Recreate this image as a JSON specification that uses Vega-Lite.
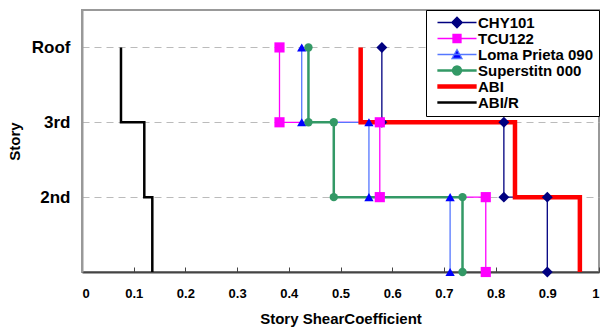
{
  "$schema": "https://vega.github.io/schema/vega-lite/v6.json",
  "width": 517,
  "height": 262,
  "autosize": {"type": "none"},
  "padding": {"left": 82, "top": 10, "right": 2, "bottom": 60},
  "background": "white",
  "config": {
    "view": {"stroke": "#999999", "strokeWidth": 2},
    "font": "Liberation Sans"
  },
  "data": {
    "values": [
      {"s": "CHY101", "i": 1, "x": 0.58, "y": 3},
      {"s": "CHY101", "i": 2, "x": 0.58, "y": 2},
      {"s": "CHY101", "i": 3, "x": 0.816, "y": 2},
      {"s": "CHY101", "i": 4, "x": 0.816, "y": 1},
      {"s": "CHY101", "i": 5, "x": 0.9, "y": 1},
      {"s": "CHY101", "i": 6, "x": 0.9, "y": 0},
      {"s": "TCU122", "i": 1, "x": 0.382, "y": 3},
      {"s": "TCU122", "i": 2, "x": 0.382, "y": 2},
      {"s": "TCU122", "i": 3, "x": 0.576, "y": 2},
      {"s": "TCU122", "i": 4, "x": 0.576, "y": 1},
      {"s": "TCU122", "i": 5, "x": 0.781, "y": 1},
      {"s": "TCU122", "i": 6, "x": 0.781, "y": 0},
      {"s": "Loma Prieta 090", "i": 1, "x": 0.425, "y": 3},
      {"s": "Loma Prieta 090", "i": 2, "x": 0.425, "y": 2},
      {"s": "Loma Prieta 090", "i": 3, "x": 0.555, "y": 2},
      {"s": "Loma Prieta 090", "i": 4, "x": 0.555, "y": 1},
      {"s": "Loma Prieta 090", "i": 5, "x": 0.712, "y": 1},
      {"s": "Loma Prieta 090", "i": 6, "x": 0.712, "y": 0},
      {"s": "Superstitn 000", "i": 1, "x": 0.438, "y": 3},
      {"s": "Superstitn 000", "i": 2, "x": 0.438, "y": 2},
      {"s": "Superstitn 000", "i": 3, "x": 0.487, "y": 2},
      {"s": "Superstitn 000", "i": 4, "x": 0.487, "y": 1},
      {"s": "Superstitn 000", "i": 5, "x": 0.736, "y": 1},
      {"s": "Superstitn 000", "i": 6, "x": 0.736, "y": 0},
      {"s": "ABI", "i": 1, "x": 0.539, "y": 3},
      {"s": "ABI", "i": 2, "x": 0.539, "y": 2},
      {"s": "ABI", "i": 3, "x": 0.8375, "y": 2},
      {"s": "ABI", "i": 4, "x": 0.8375, "y": 1},
      {"s": "ABI", "i": 5, "x": 0.963, "y": 1},
      {"s": "ABI", "i": 6, "x": 0.963, "y": 0},
      {"s": "ABI/R", "i": 1, "x": 0.0754, "y": 3},
      {"s": "ABI/R", "i": 2, "x": 0.0754, "y": 2},
      {"s": "ABI/R", "i": 3, "x": 0.1205, "y": 2},
      {"s": "ABI/R", "i": 4, "x": 0.1205, "y": 1},
      {"s": "ABI/R", "i": 5, "x": 0.136, "y": 1},
      {"s": "ABI/R", "i": 6, "x": 0.136, "y": 0}
    ]
  },
  "encoding": {
    "x": {
      "field": "x", "type": "quantitative",
      "scale": {"domain": [0, 1], "nice": false, "zero": true},
      "axis": {
        "title": "Story ShearCoefficient",
        "values": [0, 0.1, 0.2, 0.3, 0.4, 0.5, 0.6, 0.7, 0.8, 0.9, 1],
        "format": "~g",
        "grid": false,
        "domainColor": "#444444", "domainWidth": 2,
        "tickColor": "#444444", "tickSize": -5, "tickWidth": 1,
        "labelFont": "Liberation Sans", "labelFontWeight": "bold", "labelFontSize": 13, "labelColor": "black",
        "labelPadding": 20,
        "titleFont": "Liberation Sans", "titleFontWeight": "bold", "titleFontSize": 15, "titleColor": "black",
        "titlePadding": 11
      }
    },
    "y": {
      "field": "y", "type": "quantitative",
      "scale": {"domain": [0, 3.5], "nice": false, "zero": true},
      "axis": {
        "title": "Story",
        "values": [1, 2, 3],
        "labelExpr": "datum.value == 3 ? 'Roof' : datum.value == 2 ? '3rd' : '2nd'",
        "grid": true, "gridDash": [7, 5], "gridColor": "#bbbbbb", "gridWidth": 1,
        "ticks": false,
        "domainColor": "#999999", "domainWidth": 2,
        "labelFont": "Liberation Sans", "labelFontWeight": "bold", "labelFontSize": 17, "labelColor": "black",
        "labelPadding": 12,
        "titleFont": "Liberation Sans", "titleFontWeight": "bold", "titleFontSize": 15, "titleColor": "black",
        "titlePadding": 9
      }
    },
    "color": {
      "field": "s", "type": "nominal",
      "scale": {
        "domain": ["CHY101", "TCU122", "Loma Prieta 090", "Superstitn 000", "ABI", "ABI/R"],
        "range": ["#000080", "#FF00FF", "#5577FF", "#339966", "#FF0000", "#000000"]
      },
      "legend": {
        "title": null,
        "orient": "top-right",
        "offset": 0,
        "padding": 5,
        "strokeColor": "black",
        "fillColor": "white",
        "symbolSize": 100,
        "symbolOffset": 4,
        "symbolStrokeWidth": 1.3,
        "labelOffset": 28,
        "rowPadding": -1.5,
        "labelFont": "Liberation Sans", "labelFontWeight": "bold", "labelFontSize": 15, "labelColor": "black",
        "labelExpr": "datum.label + '\u00a0\u00a0\u00a0\u00a0'",
        "encode": {
          "symbols": {
            "update": {
              "shape": {"signal": "datum.value === 'CHY101' ? 'M-1,0H6.8M2.9,-1.05L3.95,0L2.9,1.05L1.85,0Z' : datum.value === 'TCU122' ? 'M-1,0H6.8M2.1,-0.8H3.7V0.8H2.1Z' : datum.value === 'Loma Prieta 090' ? 'M-1,0H6.8M2.9,-1L3.9,0.8L1.9,0.8Z' : datum.value === 'Superstitn 000' ? 'M-0.9,-0.12H6.7V0.12H-0.9ZM2,0A0.9,0.9,0,1,1,3.8,0A0.9,0.9,0,1,1,2,0Z' : datum.value === 'ABI' ? 'M-0.9,-0.32H6.7V0.32H-0.9Z' : 'M-0.9,-0.12H6.7V0.12H-0.9Z'"},
              "fill": {"signal": "datum.value === 'Loma Prieta 090' ? '#0000FF' : scale('color', datum.value)"},
              "fillOpacity": {"value": 1}
            }
          }
        }
      }
    }
  },
  "layer": [
    {
      "transform": [{"filter": {"field": "s", "oneOf": ["CHY101", "TCU122", "Loma Prieta 090"]}}],
      "mark": {"type": "line", "strokeWidth": 1.3, "strokeCap": "butt", "strokeJoin": "miter"},
      "encoding": {"order": {"field": "i", "type": "quantitative"}}
    },
    {
      "transform": [{"filter": {"field": "s", "equal": "Superstitn 000"}}],
      "mark": {"type": "line", "strokeWidth": 2.5, "strokeCap": "butt", "strokeJoin": "miter"},
      "encoding": {"order": {"field": "i", "type": "quantitative"}}
    },
    {
      "transform": [{"filter": {"field": "s", "equal": "ABI"}}],
      "mark": {"type": "line", "strokeWidth": 4.5, "strokeCap": "butt", "strokeJoin": "miter"},
      "encoding": {"order": {"field": "i", "type": "quantitative"}}
    },
    {
      "transform": [{"filter": {"field": "s", "equal": "ABI/R"}}],
      "mark": {"type": "line", "strokeWidth": 2.5, "strokeCap": "butt", "strokeJoin": "miter"},
      "encoding": {"order": {"field": "i", "type": "quantitative"}}
    },
    {
      "transform": [{"filter": {"field": "s", "oneOf": ["CHY101", "TCU122", "Loma Prieta 090", "Superstitn 000"]}}],
      "mark": {"type": "point", "filled": true, "opacity": 1, "strokeWidth": 0},
      "encoding": {
        "color": {"value": null},
        "shape": {
          "field": "s", "type": "nominal",
          "scale": {"domain": ["CHY101", "TCU122", "Loma Prieta 090", "Superstitn 000"], "range": ["diamond", "square", "triangle-up", "circle"]},
          "legend": null
        },
        "fill": {
          "field": "s", "type": "nominal",
          "scale": {"domain": ["CHY101", "TCU122", "Loma Prieta 090", "Superstitn 000"], "range": ["#000080", "#FF00FF", "#0000FF", "#339966"]},
          "legend": null
        },
        "size": {
          "field": "s", "type": "nominal",
          "scale": {"domain": ["CHY101", "TCU122", "Loma Prieta 090", "Superstitn 000"], "range": [120, 70, 85, 87]},
          "legend": null
        }
      }
    }
  ]
}
